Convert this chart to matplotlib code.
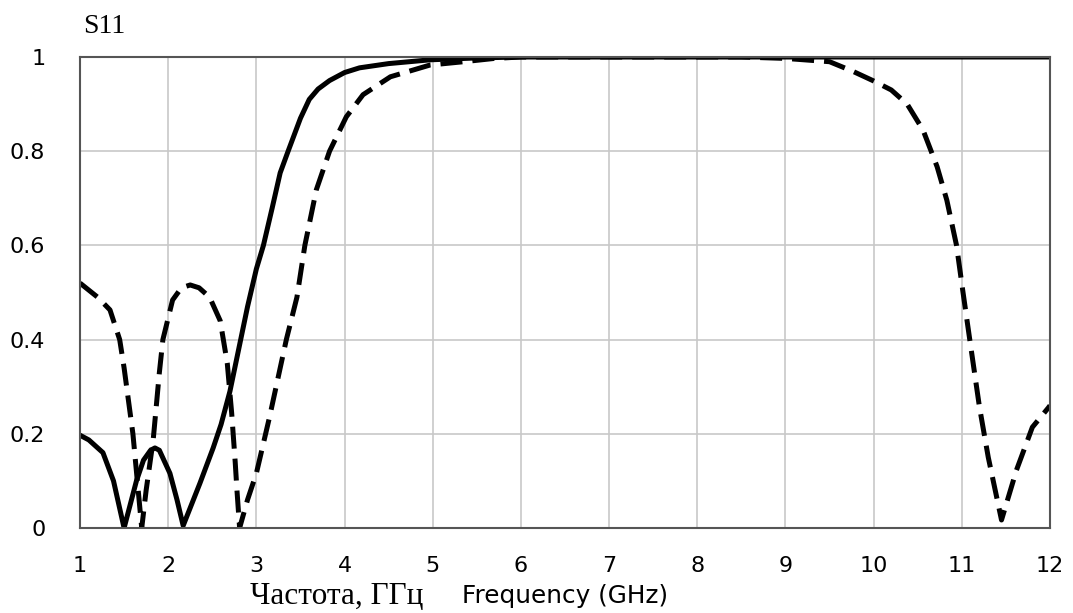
import numpy as np
import matplotlib
matplotlib.use('Agg')
import matplotlib.pyplot as plt

## == data ==
freq_solid = [1.0, 1.1, 1.26, 1.38, 1.5, 1.64, 1.72, 1.8, 1.85, 1.9, 2.02, 2.1, 2.17,
              2.36, 2.51, 2.6, 2.7, 2.8, 2.9, 3.0, 3.08, 3.18, 3.27, 3.36, 3.5, 3.6,
              3.7, 3.83, 4.0, 4.17, 4.5, 4.97, 5.5, 6.0, 12.0]
s11_solid = [0.197, 0.187, 0.16, 0.10, 0.0, 0.10, 0.144, 0.165, 0.17, 0.165, 0.116, 0.06, 0.005,
             0.095, 0.17, 0.22, 0.29, 0.38, 0.47, 0.55, 0.60, 0.68, 0.754, 0.80, 0.87, 0.91,
             0.932, 0.95, 0.967, 0.977, 0.986, 0.994, 0.998, 1.0, 1.0]

freq_dash = [1.0, 1.1, 1.2, 1.34, 1.45, 1.5, 1.55, 1.6, 1.65, 1.7, 1.75, 1.83, 1.9, 1.94,
             2.05, 2.15, 2.25, 2.35, 2.47, 2.59, 2.67, 2.72, 2.76, 2.78, 2.81, 2.9, 3.0,
             3.15, 3.34, 3.46, 3.55, 3.68, 3.83, 4.02, 4.21, 4.52, 4.97, 5.35, 5.7, 6.0,
             8.5, 9.0, 9.5, 9.76, 9.99, 10.2, 10.38, 10.56, 10.72, 10.83, 10.94, 11.01,
             11.09, 11.2, 11.3, 11.45, 11.62, 11.8, 11.98, 12.0]
s11_dash = [0.52, 0.505, 0.49, 0.463, 0.40, 0.34, 0.27, 0.20, 0.10, 0.0, 0.08, 0.187, 0.33, 0.40,
            0.484, 0.51, 0.516, 0.51, 0.49, 0.44, 0.35, 0.244, 0.14, 0.08, 0.0, 0.06, 0.116,
            0.236, 0.40, 0.49, 0.60, 0.718, 0.80, 0.873, 0.92, 0.958, 0.983, 0.99, 0.997, 1.0,
            1.0, 0.997, 0.99, 0.97, 0.95, 0.93, 0.90, 0.845, 0.767, 0.696, 0.60, 0.505,
            0.40, 0.257, 0.15, 0.017, 0.123, 0.214, 0.255, 0.26]

xticks = list(range(1, 13))
yticks = [0, 0.2, 0.4, 0.6, 0.8, 1]
ytick_labels = ['0', '0.2', '0.4', '0.6', '0.8', '1']

fig = plt.figure(figsize=(10.73, 6.13), dpi=100)
ax = fig.add_axes([80/1073, 85/613, 970/1073, 471/613])

ax.plot(freq_solid, s11_solid, color='black', lw=3.6, solid_joinstyle='round')
ax.plot(freq_dash, s11_dash, color='black', lw=3.6, dashes=(4.4, 2))

ax.set_xlim(1, 12)
ax.set_ylim(0, 1)
ax.set_xticks(xticks)
ax.set_yticks(yticks)
ax.set_yticklabels(ytick_labels)
ax.grid(True, color='#c8c8c8', lw=1.2)
ax.set_axisbelow(True)
ax.tick_params(length=0, labelsize=16, colors='black')
ax.tick_params(axis='x', pad=20)
ax.tick_params(axis='y', pad=25)
for sp in ax.spines.values():
    sp.set_color('#555555')
    sp.set_linewidth(1.5)

fig.text(83/1073, 1 - 33/613, 'S11', family='Liberation Serif', fontsize=20, va='baseline')
fig.text(250/1073, 1 - 604/613, 'Частота, ГГц', family='Liberation Serif', fontsize=22.5, va='baseline')
fig.text(462/1073, 1 - 603/613, 'Frequency (GHz)', family='DejaVu Sans', fontsize=17.8, va='baseline')

fig.savefig('out.png', dpi=100)
